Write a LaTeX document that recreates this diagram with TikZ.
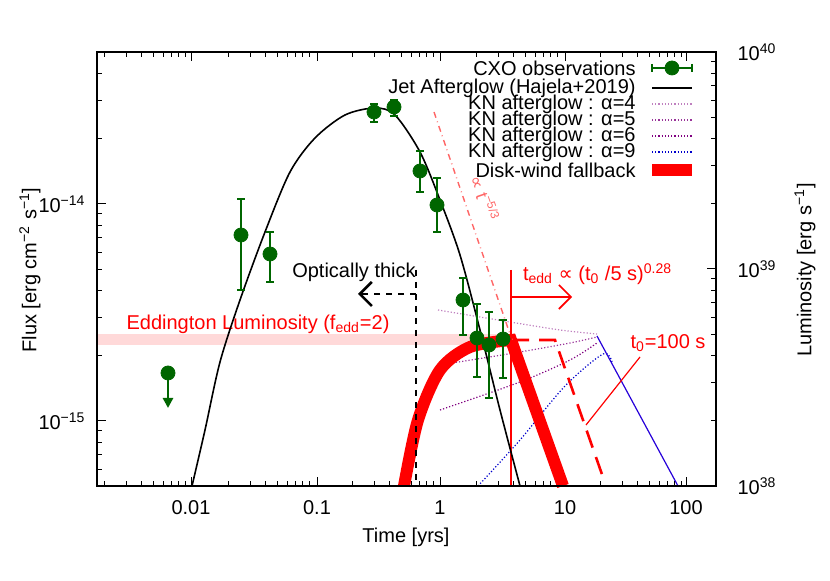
\documentclass[tikz,border=0pt]{standalone}
\usepackage{fontspec}
\setmainfont{Liberation Sans}
\newfontfamily\symfont{DejaVu Sans}
\usetikzlibrary{arrows.meta}
\newcommand{\sps}[1]{\textsuperscript{#1}}
\newcommand{\sbs}[1]{\textsubscript{#1}}
\newcommand{\prop}{{\symfont ∝}}
\tikzset{
  tick/.style={line width=0.5pt},
  obs/.style={draw=green!40!black, fill=green!40!black},
  errbar/.style={green!40!black, line width=1.3pt},
  kn/.style={densely dotted, line width=0.6pt},
  red label/.style={text=red},
}
\begin{document}
\begin{tikzpicture}[x=0.5pt, y=-0.5pt, font=\normalsize]
    \useasboundingbox (0,0) rectangle (830,581);
    % Eddington band
    \fill[red!15] (97,334) rectangle (511,345);
    % Ticks on the time axis
    \foreach \d in {-3,...,2}{
      \foreach \m in {2,...,9}{
        \pgfmathsetmacro{\px}{191+124*(log10(\m)+\d+2)}
        \ifdim\px pt>97pt \ifdim\px pt<716pt
          \draw[tick] (\px,486) -- ++(0,-5);
          \draw[tick] (\px,52) -- ++(0,5);
        \fi\fi
      }
    }
    \foreach \px/\lab in {191/0.01, 317/0.1, 440/1, 565/10, 686/100}{
      \draw[tick] (\px,486) -- ++(0,-9);
      \draw[tick] (\px,52) -- ++(0,9);
      \node (xl\px) at (\px,508) {\lab};
    }
    % Ticks on the flux and luminosity axes
    \foreach \base in {421,204,638}{
      \foreach \m in {2,...,9}{
        \pgfmathsetmacro{\py}{\base-217*log10(\m)}
        \ifdim\py pt>52pt \ifdim\py pt<486pt
          \draw[tick] (97,\py) -- ++(5,0);
        \fi\fi
      }
    }
    \foreach \base in {486,269}{
      \foreach \m in {2,...,9}{
        \pgfmathsetmacro{\py}{\base-217*log10(\m)}
        \draw[tick] (716,\py) -- ++(-5,0);
      }
    }
    \draw[tick] (97,204) -- ++(9,0);
    \draw[tick] (97,421) -- ++(9,0);
    \foreach \py in {52,269,486}{\draw[tick] (716,\py) -- ++(-9,0);}
    \node (yl1) at (62,204) {10\sps{−14}};
    \node (yl2) at (62,421) {10\sps{−15}};
    \node (yr1) at (757,52) {10\sps{40}};
    \node (yr2) at (757,269) {10\sps{39}};
    \node (yr3) at (757,486) {10\sps{38}};
    \node (xlab) at (406,537) {Time [yrs]};
    \node[rotate=90] (flux) at (30,270) {Flux [erg cm\sps{−2} s\sps{−1}]};
    \node[rotate=90] (lum) at (805,270) {Luminosity [erg s\sps{−1}]};
    % KN afterglows
    \draw[kn, violet!50] plot[smooth] coordinates {(438,310) (510,322) (560,330) (597,334)};
    \draw[kn, violet!80] plot[smooth] coordinates {(440,365) (520,352) (570,343) (597,337)};
    \draw[kn, violet] plot[smooth] coordinates {(440,410) (520,382) (570,360) (597,343)};
    \draw[kn, blue!80!black] plot[smooth] coordinates {(478,486) (520,440) (565,386) (603,354) (612,362)};
    \draw[blue!70!violet, line width=0.6pt] (597,336) -- (678,486);
    % Disk-wind fallback
    \draw[red, line width=6pt] plot[smooth] coordinates {(404,486) (418,420) (440,370) (470,347) (511,340)} -- (563,486);
    \draw[red, dashed, line width=1.3pt, dash pattern=on 9pt off 5pt] (511,340) -- (555,340) -- (605,483);
    \draw[red!60, dash dot, line width=0.7pt] (434,112) -- (512,340);
    \node[text=red!60, rotate=-71, font=\small] (slope) at (485,198) {\prop{} t\sps{−5/3}};
    % Eddington time
    \draw[red, line width=0.7pt] (511,270) -- (511,486);
    \draw[red, line width=0.8pt, -{Straight Barb[length=6pt]}] (511,297) -- (572,297);
    \node[red label, anchor=west] (tedd) at (516,274) {t\sbs{edd} \prop{} (t\sbs{0} /5 s)\sps{0.28}};
    \node[red label] (tzero) at (668,343) {t\sbs{0}=100 s};
    \draw[red, line width=0.6pt] (640,357) -- (586,425);
    \node[red label] (edd) at (258,324) {Eddington Luminosity (f\sbs{edd}=2)};
    % Optically thick
    \draw[dashed, line width=1.3pt] (416,270) -- (416,486);
    \draw[dashed, line width=1.3pt, -{Straight Barb[length=6pt]}] (416,294) -- (358,294);
    \node (thick) at (354,272) {Optically thick};
    % Jet afterglow
    \draw[line width=0.8pt] plot[smooth] coordinates {(192,486) (205,430) (220,362) (240,300) (265,232) (290,172) (315,138) (345,115) (375,108) (395,115) (420,152) (440,200) (460,255) (480,330) (500,410) (520,486)};
    % CXO observations
    \draw[errbar, -{Triangle[length=5pt,width=5pt]}] (168,373) -- (168,408);
    \foreach \px/\py/\lo/\hi in {241/235/199/290, 270/254/232/282, 374/112/104/122, 394/107/100/116, 420/171/151/192, 437/205/178/232, 463/300/278/335, 477/338/304/377, 489/345/312/398, 503/339/320/378}{
      \draw[errbar] (\px,\lo) -- (\px,\hi);
      \draw[errbar] (\px-4,\lo) -- (\px+4,\lo);
      \draw[errbar] (\px-4,\hi) -- (\px+4,\hi);
    }
    \foreach \px/\py in {168/373, 241/235, 270/254, 374/112, 394/107, 420/171, 437/205, 463/300, 477/338, 489/345, 503/339}{
      \fill[obs] (\px,\py) circle (7);
    }
    % Legend
    \foreach \ly/\txt in {68/CXO observations, 88/Jet Afterglow (Hajela+2019), 104/KN afterglow : α=4, 120/KN afterglow : α=5, 136/KN afterglow : α=6, 152/KN afterglow : α=9, 170/Disk-wind fallback}{
      \node[anchor=east, inner sep=0pt] at (636,\ly) {\txt};
    }
    \draw[errbar] (652,68) -- (692,68);
    \draw[errbar] (652,64) -- (652,72);
    \draw[errbar] (692,64) -- (692,72);
    \fill[obs] (672,68) circle (7);
    \draw[line width=0.8pt] (652,88) -- (692,88);
    \draw[kn, violet!50] (652,104) -- (692,104);
    \draw[kn, violet!80] (652,120) -- (692,120);
    \draw[kn, violet] (652,136) -- (692,136);
    \draw[kn, blue!80!black] (652,152) -- (692,152);
    \draw[red, line width=6pt] (652,170) -- (692,170);
    % Frame
    \draw[line width=0.8pt] (97,52) rectangle (716,486);
\end{tikzpicture}
\end{document}
